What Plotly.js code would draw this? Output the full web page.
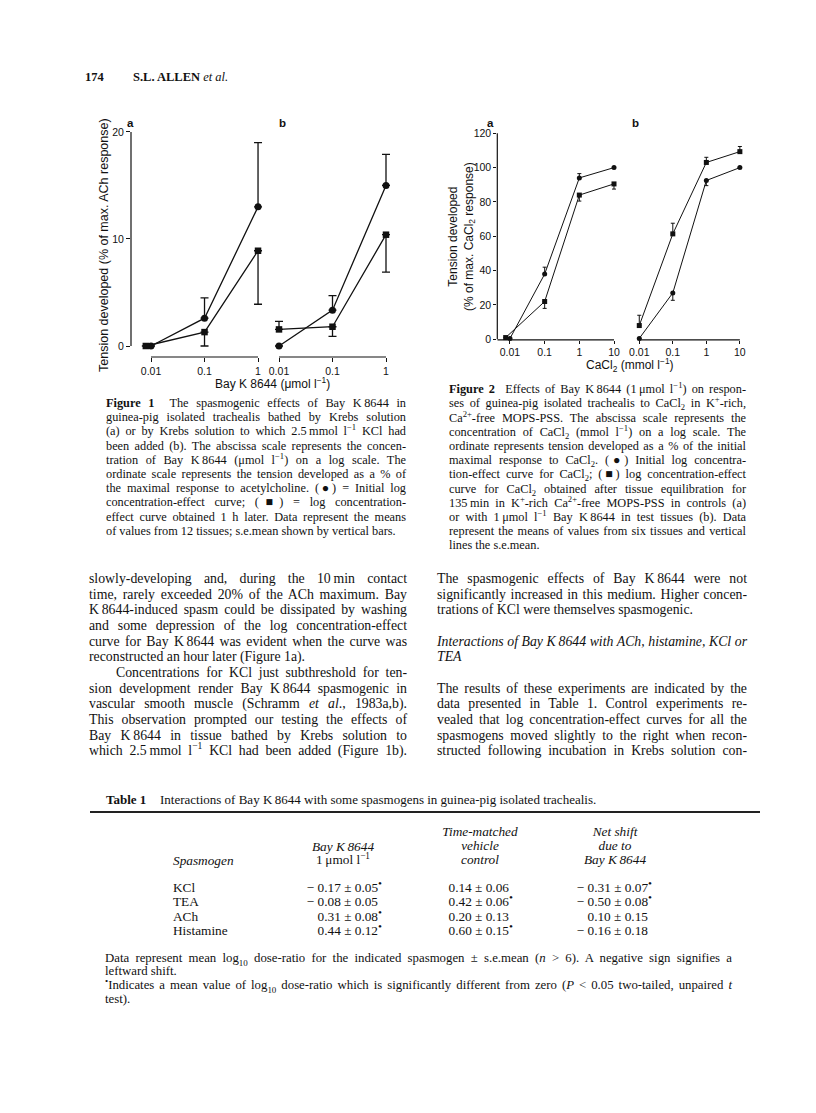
<!DOCTYPE html>
<html>
<head>
<meta charset="utf-8">
<script src="https://cdn.plot.ly/plotly-3.0.1.min.js"></script>
<style>
  html, body { margin: 0; padding: 0; background: #fff; }
  #page { position: relative; width: 816px; height: 1113px; overflow: hidden; }
  #plot { position: absolute; left: 0; top: 0; width: 816px; height: 1113px; }
  .ln { position: absolute; white-space: nowrap; color: #111;
        font-family: "Liberation Serif", "Times New Roman", serif;
        text-align: justify; text-align-last: justify; z-index: 2; }
  .ln.last { text-align-last: left; }
  .ln sup, .ln sub, .cell sup, .cell sub { font-size: 70%; line-height: 0; }
  .cell { position: absolute; white-space: nowrap; color: #111; z-index: 2;
          font-family: "Liberation Serif", "Times New Roman", serif; font-size: 13.3px; }
</style>
</head>
<body>
<div id="page">
  <div id="plot"></div>
</div>
<script>
// ---- Figure 1 data (Bay K 8644, umol/l ; % of max ACh response)
const fig1Conc = [0.01, 0.1, 1];
const fig1aSqConc = [0.008, 0.1, 1];
const fig1aCircle = [0, 2.6, 13.0];
const fig1aCircleUp = [0, 1.9, 6.0];
const fig1aSquare = [0, 1.3, 8.9];
const fig1aSquareDown = [0, 1.3, 5.0];
const fig1bCircle = [0, 3.35, 15.0];
const fig1bCircleUp = [0, 1.35, 2.9];
const fig1bSquare = [1.55, 1.8, 10.4];
const fig1bSquareUp = [0.75, 0, 0];
const fig1bSquareDown = [0, 0.9, 3.5];
const fig1Ticks = ['0.01', '0.1', '1'];

// ---- Figure 2 data (CaCl2, mmol/l ; % of max CaCl2 response)
const fig2Conc = [0.01, 0.1, 1, 10];
const fig2aSqConc = [0.0075, 0.1, 1, 10];
const fig2aCircle = [0.5, 38, 94, 100];
const fig2aCircleUp = [0, 4, 2.5, 0];
const fig2aSquare = [1, 22, 84, 90.5];
const fig2aSquareDown = [0, 4, 3.5, 3];
const fig2bCircle = [0.5, 27, 92.5, 100];
const fig2bCircleDown = [0, 4.3, 3, 0];
const fig2bSquare = [8, 61.4, 103, 109.3];
const fig2bSquareUp = [6, 6.2, 3, 3];
const fig2Ticks = ['0.01', '0.1', '1', '10'];

// ---- Table 1
const spasmogens = ['KCl', 'TEA', 'ACh', 'Histamine'];
const bayMean = [-0.17, -0.08, 0.31, 0.44];
const baySem = [0.05, 0.05, 0.08, 0.12];
const baySig = [1, 0, 1, 1];
const vehMean = [0.14, 0.42, 0.20, 0.60];
const vehSem = [0.06, 0.06, 0.13, 0.15];
const vehSig = [0, 1, 0, 1];
const netMean = [-0.31, -0.50, 0.10, -0.16];
const netSem = [0.07, 0.08, 0.15, 0.18];
const netSig = [1, 1, 0, 0];

const W = 816, H = 1113;
const SANS = '"Liberation Sans", Arial, sans-serif';
const INK = '#111';
function px(x) { return x / W; }
function py(y) { return 1 - y / H; }
const zeros = n => new Array(n).fill(0);

function series(xs, ys, up, down, symbol, xa, ya, size, lw, capw) {
  return {
    x: xs.map(Math.log10), y: ys, xaxis: xa, yaxis: ya,
    type: 'scatter', mode: 'lines+markers', cliponaxis: false,
    line: {color: INK, width: lw},
    marker: {symbol: symbol, size: size, color: INK},
    error_y: {type: 'data', symmetric: false, array: up, arrayminus: down,
              color: INK, thickness: lw, width: capw},
    hoverinfo: 'skip'
  };
}

const traces = [
  series(fig1Conc, fig1aCircle, fig1aCircleUp, zeros(3), 'circle', 'x', 'y', 7, 1.3, 4),
  series(fig1aSqConc, fig1aSquare, zeros(3), fig1aSquareDown, 'square', 'x', 'y', 6.5, 1.3, 4),
  series(fig1Conc, fig1bCircle, fig1bCircleUp, zeros(3), 'circle', 'x2', 'y', 7, 1.3, 4),
  series(fig1Conc, fig1bSquare, fig1bSquareUp, fig1bSquareDown, 'square', 'x2', 'y', 6.5, 1.3, 4),
  series(fig2Conc, fig2aCircle, fig2aCircleUp, zeros(4), 'circle', 'x3', 'y2', 5, 1, 2),
  series(fig2aSqConc, fig2aSquare, zeros(4), fig2aSquareDown, 'square', 'x3', 'y2', 5, 1, 2),
  series(fig2Conc, fig2bCircle, zeros(4), fig2bCircleDown, 'circle', 'x4', 'y2', 5, 1, 2),
  series(fig2Conc, fig2bSquare, fig2bSquareUp, zeros(4), 'square', 'x4', 'y2', 5, 1, 2)
];

const tickFont = {family: SANS, size: 10.5, color: INK};
function xAx(dom, range, anchor, conc, labels, len) {
  return {domain: dom, range: range, anchor: anchor, showline: false, zeroline: false,
          showgrid: false, ticks: 'outside', ticklen: len, tickwidth: 1, tickcolor: INK,
          tickvals: conc.map(Math.log10), ticktext: labels, tickfont: tickFont};
}
function yAx(dom, range, anchor, vals, len) {
  return {domain: dom, range: range, anchor: anchor, showline: false, zeroline: false,
          showgrid: false, ticks: 'outside', ticklen: len, tickwidth: 1, tickcolor: INK,
          tickvals: vals, tickfont: tickFont};
}

function hline(xref, x0, x1, y) {
  return {type: 'line', xref: xref, yref: 'paper', x0: x0, x1: x1, y0: y, y1: y,
          line: {color: INK, width: 1.2}};
}
function vline(x, yref, y0, y1) {
  return {type: 'line', xref: 'paper', yref: yref, x0: x, x1: x, y0: y0, y1: y1,
          line: {color: INK, width: 1.2}};
}

function note(x, y, text, size, extra) {
  return Object.assign({xref: 'paper', yref: 'paper', x: px(x), y: py(y), text: text,
    showarrow: false, xanchor: 'center', yanchor: 'middle',
    font: {family: SANS, size: size, color: INK}}, extra || {});
}

const layout = {
  width: W, height: H, margin: {l: 0, r: 0, t: 0, b: 0},
  paper_bgcolor: '#fff', plot_bgcolor: 'rgba(0,0,0,0)', showlegend: false,
  xaxis: xAx([px(131), px(266)], [-2.374, 0.149], 'y', fig1Conc, fig1Ticks, 4),
  xaxis2: xAx([px(271), px(394)], [-2.1495, 0.1495], 'y', fig1Conc, fig1Ticks, 4),
  yaxis: yAx([py(357), py(128)], [-1.028, 20.37], 'x', [0, 10, 20], 4),
  xaxis3: xAx([px(497.3), px(620)], [-2.366, 1.173], 'y2', fig2Conc, fig2Ticks, 3),
  xaxis4: xAx([px(630.9), px(744.9)], [-2.25, 1.15], 'y2', fig2Conc, fig2Ticks, 3),
  yaxis2: yAx([py(339.8), py(130.7)], [-0.3, 121.5], 'x3', [0, 20, 40, 60, 80, 100, 120], 3),
  shapes: [
    vline(px(131), 'y', 0, 20),
    hline('x', -2, 0, py(357)),
    hline('x2', -2, 0, py(357)),
    vline(px(497.3), 'y2', 0, 120),
    hline('x3', -2.366, 1, py(339.8)),
    hline('x4', -2, 1, py(339.8))
  ],
  annotations: [
    note(104, 245, 'Tension developed (% of max. ACh response)', 12.5, {textangle: -90}),
    note(272, 383, 'Bay K 8644 (\u03bcmol l<sup>\u22121</sup>)', 12),
    note(130, 123, '<b>a</b>', 11.5),
    note(282, 123, '<b>b</b>', 11.5),
    note(461, 237, 'Tension developed<br>(% of max. CaCl<sub>2</sub> response)', 12, {textangle: -90}),
    note(630, 365, 'CaCl<sub>2</sub> (mmol l<sup>\u22121</sup>)', 12),
    note(490, 123, '<b>a</b>', 11.5),
    note(635, 123, '<b>b</b>', 11.5)
  ]
};

Plotly.newPlot('plot', traces, layout, {displayModeBar: false, staticPlot: true});

// ---- page text
const page = document.getElementById('page');
// lines starting with '~' end a paragraph (not stretched); empty lines are skipped
function textLines(lines, left, width, top0, step, size) {
  lines.forEach((t, i) => {
    let last = false;
    if (t.startsWith('~')) { last = true; t = t.slice(1); }
    if (!t) return;
    const d = document.createElement('div');
    d.className = 'ln' + (last ? ' last' : '');
    d.style.left = left + 'px';
    d.style.width = width + 'px';
    d.style.top = (top0 + i * step - step / 2) + 'px';
    d.style.height = step + 'px';
    d.style.lineHeight = step + 'px';
    d.style.fontSize = size + 'px';
    d.innerHTML = t;
    page.appendChild(d);
  });
}

textLines(['~<b>174</b>'], 85, 40, 77, 16, 12.5);
textLines(['~<b>S.L. ALLEN</b> <i>et al.</i>'], 133, 150, 77, 16, 12.5);

const cap1 = [
  '<b>Figure 1</b>&nbsp; The spasmogenic effects of Bay K\u20098644 in',
  'guinea-pig isolated trachealis bathed by Krebs solution',
  '(a) or by Krebs solution to which 2.5\u2009mmol l<sup>\u22121</sup> KCl had',
  'been added (b). The abscissa scale represents the concen-',
  'tration of Bay K\u20098644 (\u03bcmol l<sup>\u22121</sup>) on a log scale. The',
  'ordinate scale represents the tension developed as a % of',
  'the maximal response to acetylcholine. (\u25cf) = Initial log',
  'concentration-effect curve; (\u25a0) = log concentration-',
  'effect curve obtained 1 h later. Data represent the means',
  '~of values from 12 tissues; s.e.mean shown by vertical bars.'
];
textLines(cap1, 106, 300, 403, 14.2, 12.3);

const cap2 = [
  '<b>Figure 2</b>&nbsp; Effects of Bay K\u20098644 (1\u2009\u03bcmol l<sup>\u22121</sup>) on respon-',
  'ses of guinea-pig isolated trachealis to CaCl<sub>2</sub> in K<sup>+</sup>-rich,',
  'Ca<sup>2+</sup>-free MOPS-PSS. The abscissa scale represents the',
  'concentration of CaCl<sub>2</sub> (mmol l<sup>\u22121</sup>) on a log scale. The',
  'ordinate represents tension developed as a % of the initial',
  'maximal response to CaCl<sub>2</sub>. (\u25cf) Initial log concentra-',
  'tion-effect curve for CaCl<sub>2</sub>; (\u25a0) log concentration-effect',
  'curve for CaCl<sub>2</sub> obtained after tissue equilibration for',
  '135\u2009min in K<sup>+</sup>-rich Ca<sup>2+</sup>-free MOPS-PSS in controls (a)',
  'or with 1\u2009\u03bcmol l<sup>\u22121</sup> Bay K\u20098644 in test tissues (b). Data',
  'represent the means of values from six tissues and vertical',
  '~lines the s.e.mean.'
];
textLines(cap2, 449, 297, 389.3, 14.2, 12.3);

const bodyLeft = [
  'slowly-developing and, during the 10\u2009min contact',
  'time, rarely exceeded 20% of the ACh maximum. Bay',
  'K\u20098644-induced spasm could be dissipated by washing',
  'and some depression of the log concentration-effect',
  'curve for Bay K\u20098644 was evident when the curve was',
  '~reconstructed an hour later (Figure 1a).',
  '&nbsp;&nbsp;&nbsp;&nbsp;Concentrations for KCl just subthreshold for ten-',
  'sion development render Bay K\u20098644 spasmogenic in',
  'vascular smooth muscle (Schramm <i>et al</i>., 1983a,b).',
  'This observation prompted our testing the effects of',
  'Bay K\u20098644 in tissue bathed by Krebs solution to',
  'which 2.5\u2009mmol l<sup>\u22121</sup> KCl had been added (Figure 1b).'
];
textLines(bodyLeft, 89, 318, 579, 15.65, 13.8);

const bodyRight = [
  'The spasmogenic effects of Bay K\u20098644 were not',
  'significantly increased in this medium. Higher concen-',
  '~trations of KCl were themselves spasmogenic.',
  '~',
  '<i>Interactions of Bay K\u20098644 with ACh, histamine, KCl or</i>',
  '~<i>TEA</i>',
  '~',
  'The results of these experiments are indicated by the',
  'data presented in Table 1. Control experiments re-',
  'vealed that log concentration-effect curves for all the',
  'spasmogens moved slightly to the right when recon-',
  'structed following incubation in Krebs solution con-'
];
textLines(bodyRight, 437, 310, 579, 15.65, 13.8);

// ---- Table 1
textLines(['~<b>Table 1</b>'], 106, 60, 799, 15, 13);
textLines(['~Interactions of Bay K\u20098644 with some spasmogens in guinea-pig isolated trachealis.'], 160, 520, 799, 15, 13);
const rule = document.createElement('div');
rule.style.cssText = 'position:absolute;left:90px;top:811px;width:670px;height:1.6px;background:#222;z-index:2';
page.appendChild(rule);

function cell(html, x, y, align, italic) {
  const d = document.createElement('div');
  d.className = 'cell';
  d.innerHTML = html;
  d.style.top = (y - 8) + 'px';
  d.style.height = '16px';
  d.style.lineHeight = '16px';
  if (italic) d.style.fontStyle = 'italic';
  if (align === 'right') { d.style.right = (W - x) + 'px'; }
  else if (align === 'center') { d.style.left = (x - 100) + 'px'; d.style.width = '200px'; d.style.textAlign = 'center'; }
  else { d.style.left = x + 'px'; }
  page.appendChild(d);
}
function fmt(m, s, sig) {
  const star = sig ? '<sup style="font-size:85%">\u2022</sup>'
                   : '<span style="display:inline-block;width:4px"></span>';
  return (m < 0 ? '\u2212 ' : '') + Math.abs(m).toFixed(2) + ' \u00b1 ' + s.toFixed(2) + star;
}

cell('Spasmogen', 173, 861, 'left', true);
cell('Bay K\u20098644', 343, 846.7, 'center', true);
cell('1\u2009\u03bcmol l<sup>\u22121</sup>', 343, 860, 'center', false);
cell('Time-matched', 480, 831.7, 'center', true);
cell('vehicle', 480, 846, 'center', true);
cell('control', 480, 860, 'center', true);
cell('Net shift', 615, 831.7, 'center', true);
cell('due to', 615, 846, 'center', true);
cell('Bay K\u20098644', 615, 860, 'center', true);

const rowY = [888.3, 902.3, 916.5, 930.5];
spasmogens.forEach((s, i) => {
  cell(s, 173, rowY[i], 'left', false);
  cell(fmt(bayMean[i], baySem[i], baySig[i]), 382, rowY[i], 'right');
  cell(fmt(vehMean[i], vehSem[i], vehSig[i]), 513, rowY[i], 'right');
  cell(fmt(netMean[i], netSem[i], netSig[i]), 652, rowY[i], 'right');
});

const notes = [
  'Data represent mean log<sub>10</sub> dose-ratio for the indicated spasmogen \u00b1 s.e.mean (<i>n</i> &gt; 6). A negative sign signifies a',
  '~leftward shift.',
  '<sup>\u2022</sup>Indicates a mean value of log<sub>10</sub> dose-ratio which is significantly different from zero (<i>P</i> &lt; 0.05 two-tailed, unpaired <i>t</i>',
  '~test).'
];
textLines(notes, 105, 627, 958.5, 13.9, 12.8);
</script>
</body>
</html>
